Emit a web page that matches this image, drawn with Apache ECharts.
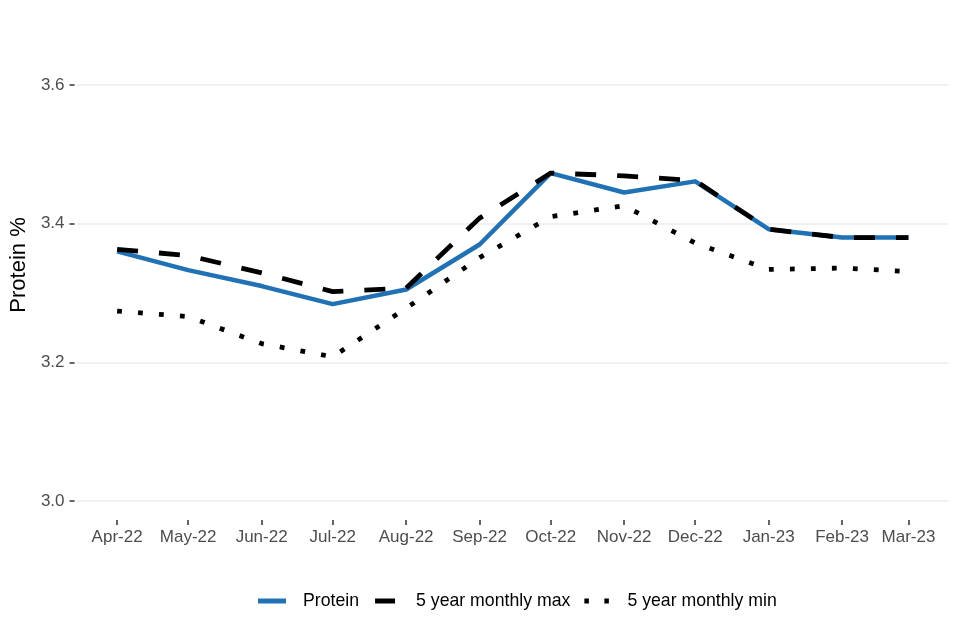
<!DOCTYPE html>
<html>
<head>
<meta charset="utf-8">
<script src="https://cdn.jsdelivr.net/npm/echarts@6/dist/echarts.min.js"></script>
<style>html,body{margin:0;padding:0;background:#fff}#c{width:960px;height:640px}</style>
</head>
<body>
<div id="c"></div>
<script>
const months = ['2022-04-01','2022-05-01','2022-06-01','2022-07-01','2022-08-01','2022-09-01','2022-10-01','2022-11-01','2022-12-01','2023-01-01','2023-02-01','2023-03-01'];
const monthLabels = ['Apr-22','May-22','Jun-22','Jul-22','Aug-22','Sep-22','Oct-22','Nov-22','Dec-22','Jan-23','Feb-23','Mar-23'];
const protein = [3.360, 3.333, 3.310, 3.284, 3.305, 3.370, 3.473, 3.445, 3.461, 3.392, 3.380, 3.380];
const max5 = [3.363, 3.354, 3.329, 3.302, 3.307, 3.408, 3.473, 3.469, 3.462, 3.392, 3.380, 3.380];
const min5 = [3.274, 3.266, 3.227, 3.208, 3.278, 3.351, 3.410, 3.426, 3.372, 3.334, 3.336, 3.331];
const yTicks = [3.0, 3.2, 3.4, 3.6];

// day offsets of each month from the first month (date axis)
const ts = months.map(s => { const p = s.split('-').map(Number); return Date.UTC(p[0], p[1]-1, p[2]); });
const days = ts.map(t => Math.round((t - ts[0]) / 86400000));
const span = days[days.length-1] - days[0];
const xMin = days[0] - 0.05*span, xMax = days[days.length-1] + 0.05*span;
const pair = arr => arr.map((v,i) => [days[i], v]);
const labelFor = v => { let b = 0; days.forEach((d,i)=>{ if (Math.abs(d-v) < Math.abs(days[b]-v)) b = i; }); return monthLabels[b]; };
const FONT = "'Liberation Sans', Arial, sans-serif";

const chart = echarts.init(document.getElementById('c'), null, {renderer:'canvas'});
chart.setOption({
  animation: false,
  backgroundColor: '#fff',
  grid: {left: 76, right: 12, top: 85, bottom: 139, containLabel: false},
  xAxis: {
    type: 'value', min: xMin, max: xMax, offset: 19,
    axisLine: {show: false, onZero: false},
    axisTick: {show: true, length: 5, lineStyle: {color: '#333', width: 1.5}, customValues: days},
    axisLabel: {customValues: days, formatter: v => labelFor(v), color: '#4d4d4d', fontSize: 17, fontFamily: FONT, margin: 9, hideOverlap: false},
    splitLine: {show: false}
  },
  yAxis: {
    type: 'value', min: yTicks[0], max: yTicks[yTicks.length-1], interval: 0.2, offset: 3,
    name: 'Protein %', nameLocation: 'middle', nameGap: 39,
    nameTextStyle: {color: '#000', fontSize: 22, fontFamily: FONT, padding: [0,0,0,56]},
    axisLine: {show: false, onZero: false},
    axisTick: {show: true, length: 5, lineStyle: {color: '#333', width: 1.5}},
    axisLabel: {formatter: v => v.toFixed(1), color: '#4d4d4d', fontSize: 17, fontFamily: FONT, margin: 10},
    splitLine: {show: true, lineStyle: {color: '#ebebeb', width: 1.6}}
  },
  legend: {
    left: 258, top: 592, padding: 0, itemWidth: 28, itemHeight: 5, itemGap: 12,
    itemStyle: {borderWidth: 0},
    textStyle: {color: '#000', fontSize: 17.7, fontFamily: FONT, padding: [0,0,0,12]},
    data: [
      {name: 'Protein', icon: 'rect'},
      {name: '5 year monthly max', icon: 'path://M0,0L0,0M4,0L24,0L24,5L4,5ZM28,5L28,5'},
      {name: '5 year monthly min', icon: 'path://M0,0L0,0M2,0h4.5v5h-4.5zM22,0h4.5v5h-4.5zM28,5L28,5'}
    ]
  },
  series: [
    {name: 'Protein', type: 'line', data: pair(protein), symbol: 'none', color: '#2171b5',
     lineStyle: {color: '#2171b5', width: 4.5, join: 'round'}, z: 2},
    {name: '5 year monthly max', type: 'line', data: pair(max5), symbol: 'none', color: '#000',
     lineStyle: {color: '#000', width: 4.8, type: [21,21], join: 'round'}, z: 3},
    {name: '5 year monthly min', type: 'line', data: pair(min5), symbol: 'none', color: '#000',
     lineStyle: {color: '#000', width: 4.8, type: [4.8,16.2], join: 'round'}, z: 4}
  ]
});
</script>
</body>
</html>
